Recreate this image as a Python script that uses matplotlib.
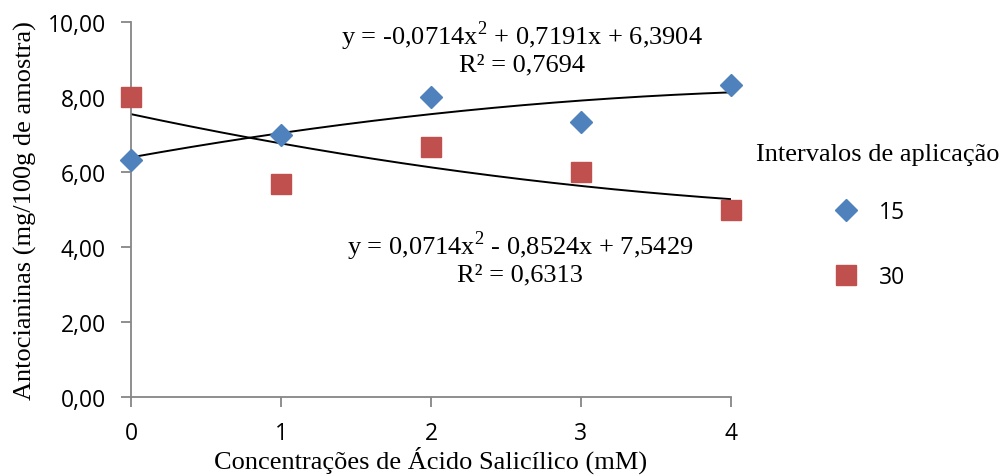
import numpy as np
import matplotlib
matplotlib.use("Agg")
import matplotlib.pyplot as plt
from matplotlib.lines import Line2D

# Data
concentracoes = [0, 1, 2, 3, 4]
serie_15 = [6.33, 7.00, 8.00, 7.33, 8.33]
serie_30 = [8.00, 5.67, 6.67, 6.00, 5.00]
coef_15 = [-0.0714, 0.7191, 6.3904]
coef_30 = [0.0714, -0.8524, 7.5429]
eq_15 = "y = -0,0714x$^2$ + 0,7191x + 6,3904"
r2_15 = "R² = 0,7694"
eq_30 = "y = 0,0714x$^2$ - 0,8524x + 7,5429"
r2_30 = "R² = 0,6313"
yticks = [0, 2, 4, 6, 8, 10]
ytick_labels = ["0,00", "2,00", "4,00", "6,00", "8,00", "10,00"]
xticks = [0, 1, 2, 3, 4]
legend_labels = ["15", "30"]

plt.rcParams['mathtext.fontset'] = 'custom'
plt.rcParams['mathtext.rm'] = 'Liberation Serif'

W, H = 1004, 477
fig = plt.figure(figsize=(W/100, H/100), dpi=100)
ax = fig.add_axes([131/W, 1-398/H, 600/W, 375/H])

blue = "#4F81BD"
red = "#C0504D"
axis_col = "#868686"
SERIF = "Liberation Serif"
SANS = "Open Sans"

xs = np.linspace(0, 4, 200)
ax.plot(xs, np.polyval(coef_15, xs), color="black", lw=1.4, zorder=2)
ax.plot(xs, np.polyval(coef_30, xs), color="black", lw=1.4, zorder=2)

ax.plot(concentracoes, serie_15, linestyle="none", marker="D", markersize=11,
        color=blue, clip_on=False, zorder=3)
ax.plot(concentracoes, serie_30, linestyle="none", marker="s", markersize=14,
        color=red, clip_on=False, zorder=3)

ax.set_xlim(0, 4)
ax.set_ylim(0, 10)
ax.set_xticks(xticks)
ax.set_xticklabels([str(v) for v in xticks])
ax.set_yticks(yticks)
ax.set_yticklabels(ytick_labels)

for s in ["top", "right"]:
    ax.spines[s].set_visible(False)
for s in ["left", "bottom"]:
    ax.spines[s].set_color(axis_col)
    ax.spines[s].set_linewidth(1.3)
ax.tick_params(axis="both", direction="out", color=axis_col, width=1.3, length=7,
               labelsize=16.5)
ax.tick_params(axis="y", pad=11)
ax.tick_params(axis="x", pad=10)
for lab in ax.get_xticklabels() + ax.get_yticklabels():
    lab.set_fontfamily(SANS)

ax.set_xlabel("Concentrações de Ácido Salicílico (mM)", fontfamily=SERIF,
              fontsize=19, labelpad=1)
ax.set_ylabel("Antocianinas (mg/100g de amostra)", fontfamily=SERIF,
              fontsize=19, labelpad=8)

def ftxt(x, y, s, **kw):
    fig.text(x/W, 1-y/H, s, ha="center", va="center", fontfamily=SERIF, fontsize=19, **kw)

ftxt(522, 36, eq_15)
ftxt(522, 65, r2_15)
ftxt(520, 246, eq_30)
ftxt(520, 275, r2_30)

# legend
fig.text(756/W, 1-155/H, "Intervalos de aplicação", ha="left", va="center",
         fontfamily=SERIF, fontsize=19)
h1 = Line2D([], [], linestyle="none", marker="D", markersize=11, color=blue)
h2 = Line2D([], [], linestyle="none", marker="s", markersize=14, color=red)
leg = fig.legend(handles=[h1, h2], labels=legend_labels, loc="upper left",
                 bbox_to_anchor=(823/W, 1-201/H), frameon=False,
                 prop={"family": SANS, "size": 16.5},
                 labelspacing=1.78, handletextpad=0.45, borderpad=0, borderaxespad=0)

fig.savefig("out.png", dpi=100)
